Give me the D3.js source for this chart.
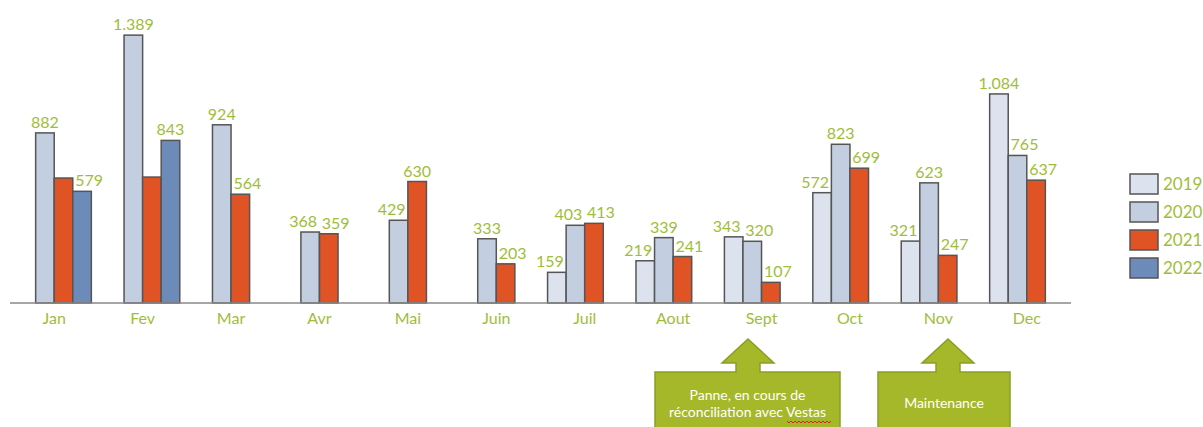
<!DOCTYPE html>
<html lang="fr">
<head>
    <meta charset="UTF-8">
    <title></title>
    <style type="text/css">
        html, body { padding:0; margin:0; background:#fff; }
        text { font-family: Lato, "Open Sans", sans-serif; }
    </style>
</head>
<body>
<script src="https://d3js.org/d3.v7.min.js"></script>
<script type="text/javascript">
    var months = ['Jan', 'Fev', 'Mar', 'Avr', 'Mai', 'Juin', 'Juil', 'Aout', 'Sept', 'Oct', 'Nov', 'Dec'];
    var years = ['2019', '2020', '2021', '2022'];

    var v2019 = [null, null, null, null, null, null, 159, 219, 343, 572, 321, 1084];
    var v2020 = [882, 1389, 924, 368, 429, 333, 403, 339, 320, 823, 623, 765];
    var v2021 = [648, 653, 564, 359, 630, 203, 413, 241, 107, 699, 247, 637];
    var v2022 = [579, 843, null, null, null, null, null, null, null, null, null, null];

    // labels that are not shown in the original
    var hiddenLabels = ['2021-Jan', '2021-Fev'];

    var notes = [
        {month: 'Sept', lines: ['Panne, en cours de', 'réconciliation avec Vestas']},
        {month: 'Nov', lines: ['Maintenance']}
    ];

    var colors = d3.scaleOrdinal()
        .domain(years)
        .range(['#dce3ee', '#c3cee1', '#e05325', '#6c8bb8']);

    var green = '#9fbd3a',
        width = 1203,
        height = 427,
        baseY = 303;

    var svg = d3.select('body').append('svg')
        .attr('width', width)
        .attr('height', height);

    var x0 = d3.scaleBand().domain(months).range([10, 1071])
        .paddingInner(0.16).paddingOuter(0.08);
    var x1 = d3.scaleBand().domain(years).range([0, x0.bandwidth()]);
    var y = d3.scaleLinear().domain([0, 1400]).range([baseY, 33]);

    var series = [v2019, v2020, v2021, v2022];
    var data = [];
    months.forEach(function(m, i) {
        years.forEach(function(yr, j) {
            var v = series[j][i];
            if (v != null) data.push({month: m, year: yr, value: v, mi: i, yi: j});
        });
    });

    function fmt(v) {
        return d3.format(',')(v).replace(/,/g, '.');
    }

    function valueAt(mi, yi) {
        if (yi < 0 || yi >= series.length) return null;
        return series[yi][mi];
    }

    // bars
    svg.append('g').selectAll('rect')
        .data(data)
        .enter()
        .append('rect')
        .attr('x', function(d) { return x0(d.month) + x1(d.year); })
        .attr('y', function(d) { return y(d.value); })
        .attr('width', x1.bandwidth())
        .attr('height', function(d) { return baseY - y(d.value); })
        .attr('fill', function(d) { return colors(d.year); })
        .attr('stroke', '#555')
        .attr('stroke-width', 1.5);

    // baseline
    svg.append('line')
        .attr('x1', 10).attr('x2', 1071)
        .attr('y1', baseY).attr('y2', baseY)
        .attr('stroke', '#888')
        .attr('stroke-width', 1.5);

    // month labels
    var xAxis = d3.axisBottom(x0).tickSize(0).tickPadding(10);
    var gx = svg.append('g')
        .attr('transform', 'translate(0,' + baseY + ')')
        .call(xAxis);
    gx.select('.domain').remove();
    gx.selectAll('text')
        .attr('fill', green)
        .style('font-size', '16px')
        .style('font-family', 'Lato, "Open Sans", sans-serif');

    // value labels, moved aside when a neighbouring bar is taller or close in height
    var labels = data.filter(function(d) {
        return hiddenLabels.indexOf(d.year + '-' + d.month) < 0;
    });
    labels.forEach(function(d) {
        var left = valueAt(d.mi, d.yi - 1),
            right = valueAt(d.mi, d.yi + 1);
        d.dx = 0;
        if (left != null && left > d.value - 30) d.dx = 7;
        else if (right != null && right > d.value - 30) d.dx = -7;
    });
    svg.append('g').selectAll('text')
        .data(labels)
        .enter()
        .append('text')
        .attr('x', function(d) { return x0(d.month) + x1(d.year) + x1.bandwidth() / 2 + d.dx; })
        .attr('y', function(d) { return y(d.value) - 5; })
        .attr('text-anchor', 'middle')
        .attr('fill', green)
        .style('font-size', '16px')
        .text(function(d) { return fmt(d.value); });

    // legend
    var legend = svg.append('g')
        .attr('transform', 'translate(1130,174)')
        .selectAll('g')
        .data(years)
        .enter()
        .append('g')
        .attr('transform', function(d, i) { return 'translate(0,' + i * 28 + ')'; });
    legend.append('rect')
        .attr('width', 28)
        .attr('height', 20)
        .attr('fill', function(d) { return colors(d); })
        .attr('stroke', '#555')
        .attr('stroke-width', 1.5);
    legend.append('text')
        .attr('x', 33)
        .attr('y', 16)
        .attr('fill', green)
        .style('font-size', '17px')
        .text(function(d) { return d; });

    // arrow notes
    var boxes = [
        {left: 655, right: 840, tip: 748},
        {left: 878, right: 1010, tip: 948}
    ];
    notes.forEach(function(n, i) {
        var b = boxes[i],
            t = b.tip,
            top = 372;
        var pts = [
            [b.left, 430], [b.left, top], [t - 12, top], [t - 12, 363], [t - 26, 363],
            [t, 339], [t + 26, 363], [t + 12, 363], [t + 12, top], [b.right, top], [b.right, 430]
        ];
        var g = svg.append('g');
        g.append('path')
            .attr('d', d3.line()(pts) + 'Z')
            .attr('fill', '#a5b829')
            .attr('stroke', '#8c9d22')
            .attr('stroke-width', 1.5);
        var cx = (b.left + b.right) / 2;
        var y0 = n.lines.length > 1 ? 400 : 408;
        n.lines.forEach(function(line, k) {
            g.append('text')
                .attr('x', cx)
                .attr('y', y0 + k * 17)
                .attr('text-anchor', 'middle')
                .attr('fill', '#fff')
                .style('font-size', '14px')
                .text(line);
        });
    });

    // red spell-check squiggle under "Vestas"
    var sq = [];
    for (var sx = 787; sx <= 832; sx += 2) {
        sq.push([sx, 422 + ((sx - 787) % 4 ? 1 : -1)]);
    }
    svg.append('path')
        .attr('d', d3.line()(sq))
        .attr('fill', 'none')
        .attr('stroke', '#e02020')
        .attr('stroke-width', 1);
</script>
</body>
</html>
